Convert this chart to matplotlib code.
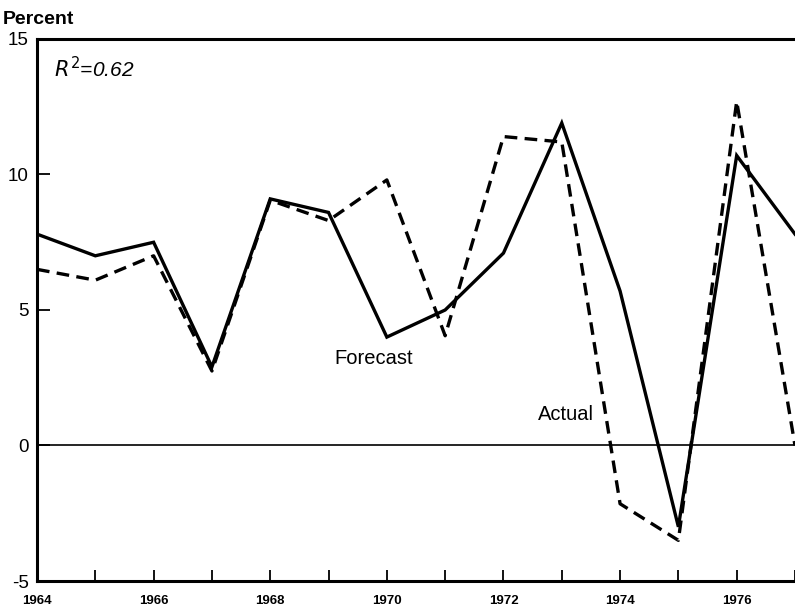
import numpy as np
import matplotlib
matplotlib.use("Agg")
import matplotlib.pyplot as plt

# values (percent)
years = [1964, 1965, 1966, 1967, 1968, 1969, 1970, 1971, 1972, 1973, 1974, 1975, 1976, 1977]
forecast = [7.8, 7.0, 7.5, 2.9, 9.1, 8.6, 4.0, 5.0, 7.1, 11.9, 5.7, -3.0, 10.7, 7.8]
actual = [6.5, 6.1, 7.0, 2.75, 9.05, 8.3, 9.8, 4.05, 11.4, 11.2, -2.15, -3.5, 12.7, 0.0]

x_labels = [1964, 1966, 1968, 1970, 1972, 1974, 1976]
y_ticks = [-5, 0, 5, 10, 15]

plt.rcParams['font.family'] = ['Liberation Sans', 'DejaVu Sans']

fig = plt.figure(figsize=(7.95, 6.07), dpi=100)
ax = fig.add_axes([37 / 795, 1 - 581 / 607, 1 - 37 / 795, (581 - 39) / 607])

ax.plot(years, forecast, color='black', linewidth=2.4, solid_joinstyle='miter')
ax.plot(years, actual, color='black', linewidth=2.4, dashes=(3.8, 2.2))
ax.axhline(0, color='black', linewidth=1.2)

ax.set_xlim(1964, 1976.92)
ax.set_ylim(-5, 15)

ax.set_xticks(years)
ax.set_xticklabels([str(y) if y in x_labels else '' for y in years],
                   fontsize=9.5, fontweight='bold')
ax.set_yticks(y_ticks)
ax.set_yticklabels(['-5', '0', '5', '10', '15'], fontsize=13.5)
ax.tick_params(axis='x', direction='in', length=8, width=1.3, pad=10)
ax.tick_params(axis='y', direction='in', length=9, width=1.3, pad=6)

for side in ['left', 'bottom', 'top']:
    ax.spines[side].set_linewidth(2.2)
ax.spines['right'].set_visible(False)

ax.text(1969.1, 3.0, 'Forecast', fontsize=14.5)
ax.text(1972.6, 0.95, 'Actual', fontsize=14.5)
ax.text(1964.3, 13.6, r'$R^2$=0.62', fontsize=15, style='italic')
fig.text(3 / 795, 1 - 24 / 607, 'Percent', fontsize=14, fontweight='bold')

fig.savefig('out.png', dpi=100)
